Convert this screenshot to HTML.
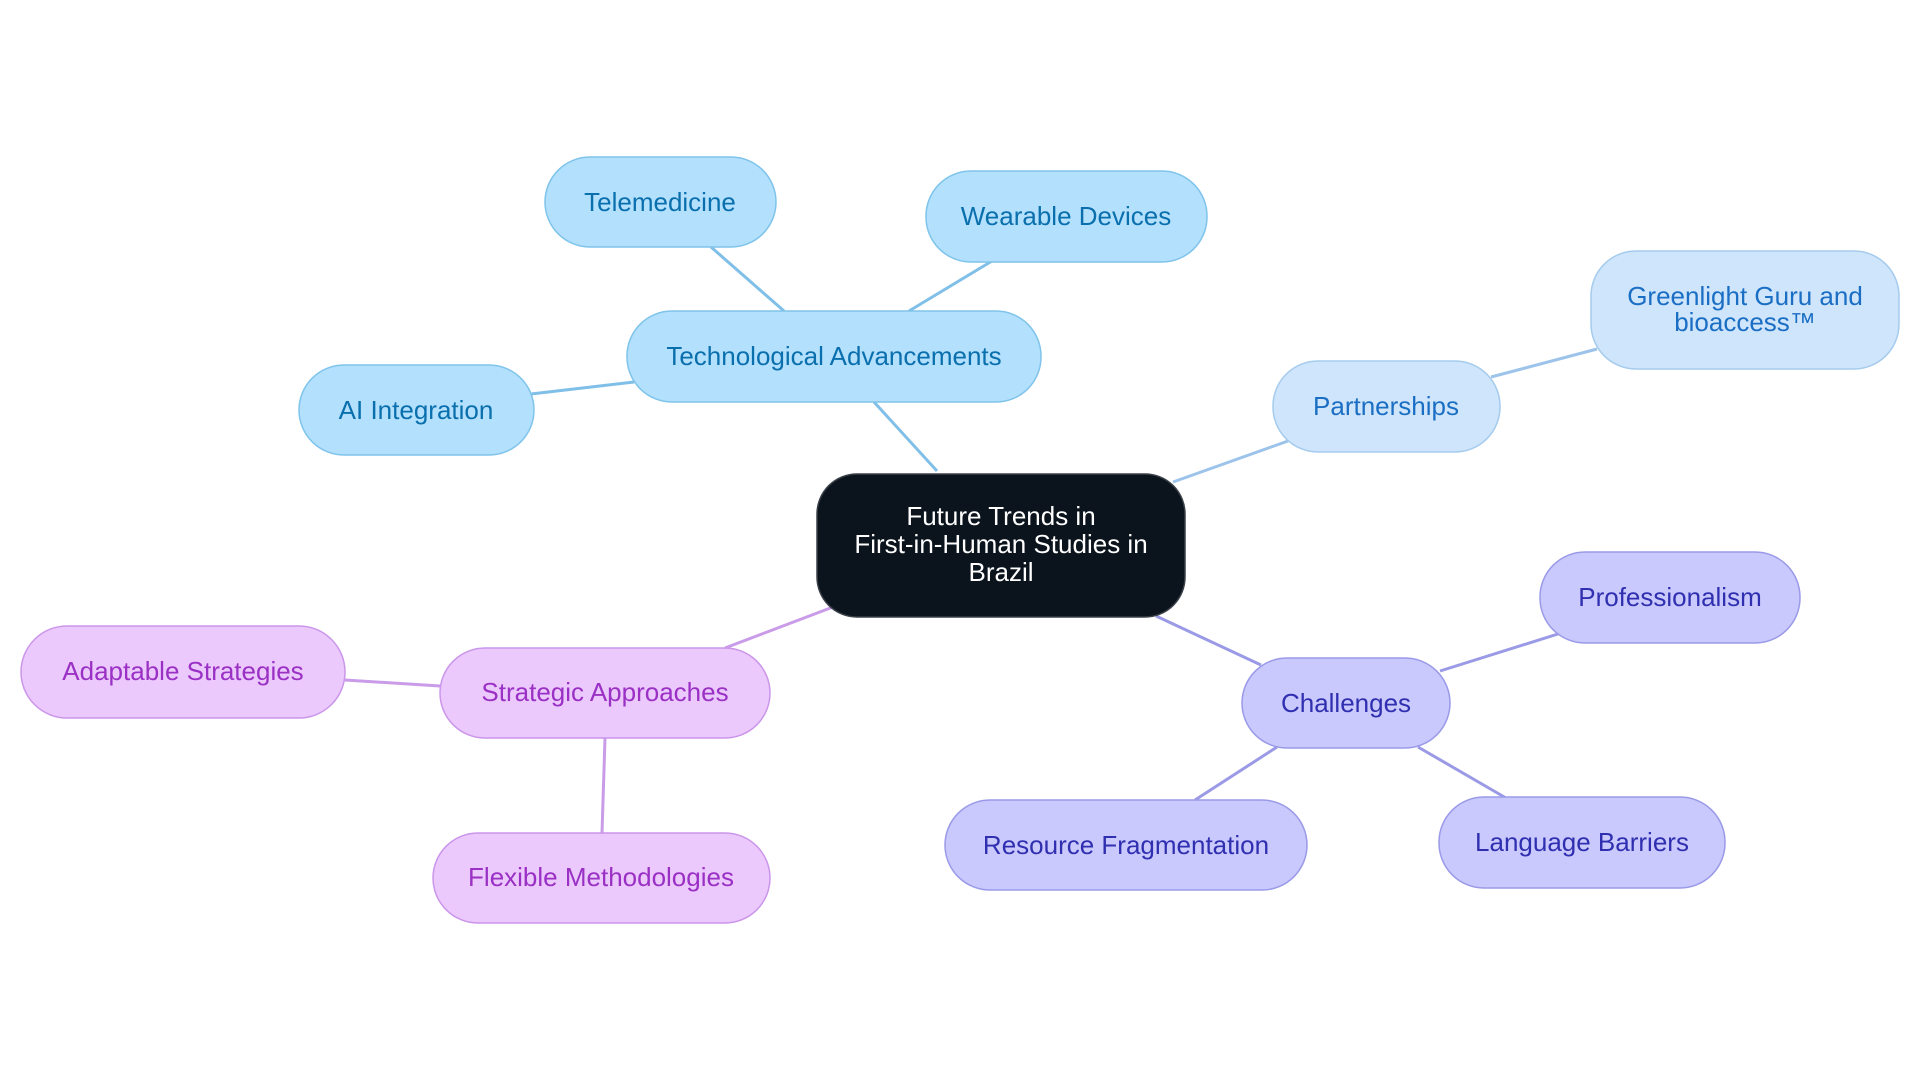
<!DOCTYPE html>
<html><head><meta charset="utf-8"><style>html,body{margin:0;padding:0;background:#fff}svg{display:block}text{font-family:"Liberation Sans",sans-serif;font-size:26px;text-anchor:middle;dominant-baseline:central}</style></head>
<body>
<svg width="1920" height="1083" viewBox="0 0 1920 1083">
<g stroke-width="3" fill="none">
<line x1="937" y1="471" x2="874" y2="402" stroke="#7fbfe8"/>
<line x1="784" y1="311" x2="711" y2="247" stroke="#7fbfe8"/>
<line x1="909" y1="311" x2="992" y2="261" stroke="#7fbfe8"/>
<line x1="634" y1="382" x2="531" y2="394" stroke="#7fbfe8"/>
<line x1="1173" y1="482" x2="1288" y2="441" stroke="#9cc3ea"/>
<line x1="1491" y1="377" x2="1597" y2="349" stroke="#9cc3ea"/>
<line x1="1156" y1="616" x2="1261" y2="665" stroke="#9a9ae6"/>
<line x1="1440" y1="671" x2="1558" y2="634" stroke="#9a9ae6"/>
<line x1="1277" y1="747" x2="1195" y2="800" stroke="#9a9ae6"/>
<line x1="1418" y1="747" x2="1506" y2="798" stroke="#9a9ae6"/>
<line x1="833" y1="607" x2="725" y2="648" stroke="#c99be8"/>
<line x1="440" y1="686" x2="345" y2="680" stroke="#c99be8"/>
<line x1="605" y1="738" x2="602" y2="833" stroke="#c99be8"/>
</g>
<rect x="817" y="474" width="368" height="143" rx="40" fill="#0b141d" stroke="#3a4048" stroke-width="1.5"/>
<text x="1001" y="516" fill="#fff" font-size="24">Future Trends in</text>
<text x="1001" y="544" fill="#fff" font-size="24">First-in-Human Studies in</text>
<text x="1001" y="572" fill="#fff" font-size="24">Brazil</text>
<g fill="#b3e0fd" stroke="#7fc4ea" stroke-width="1.5">
<rect x="627" y="311" width="414" height="91" rx="45"/>
<rect x="545" y="157" width="231" height="90" rx="45"/>
<rect x="926" y="171" width="281" height="91" rx="45"/>
<rect x="299" y="365" width="235" height="90" rx="45"/>
</g>
<g fill="#0a6fad">
<text x="834" y="356">Technological Advancements</text>
<text x="660" y="202">Telemedicine</text>
<text x="1066" y="216">Wearable Devices</text>
<text x="416" y="410">AI Integration</text>
</g>
<g fill="#cfe5fb" stroke="#a5cbed" stroke-width="1.5">
<rect x="1273" y="361" width="227" height="91" rx="45"/>
<rect x="1591" y="251" width="308" height="118" rx="45"/>
</g>
<g fill="#1a6ec4">
<text x="1386" y="406">Partnerships</text>
<text x="1745" y="296">Greenlight Guru and</text>
<text x="1745" y="322">bioaccess™</text>
</g>
<g fill="#c9c9fd" stroke="#9a9ae8" stroke-width="1.5">
<rect x="1242" y="658" width="208" height="90" rx="45"/>
<rect x="1540" y="552" width="260" height="91" rx="45"/>
<rect x="945" y="800" width="362" height="90" rx="45"/>
<rect x="1439" y="797" width="286" height="91" rx="45"/>
</g>
<g fill="#2f2fb0">
<text x="1346" y="703">Challenges</text>
<text x="1670" y="597">Professionalism</text>
<text x="1126" y="845">Resource Fragmentation</text>
<text x="1582" y="842">Language Barriers</text>
</g>
<g fill="#ebc9fd" stroke="#cb96ea" stroke-width="1.5">
<rect x="440" y="648" width="330" height="90" rx="45"/>
<rect x="21" y="626" width="324" height="92" rx="46"/>
<rect x="433" y="833" width="337" height="90" rx="45"/>
</g>
<g fill="#9a30c4">
<text x="605" y="692">Strategic Approaches</text>
<text x="183" y="671">Adaptable Strategies</text>
<text x="601" y="877">Flexible Methodologies</text>
</g>
</svg>
</body></html>
